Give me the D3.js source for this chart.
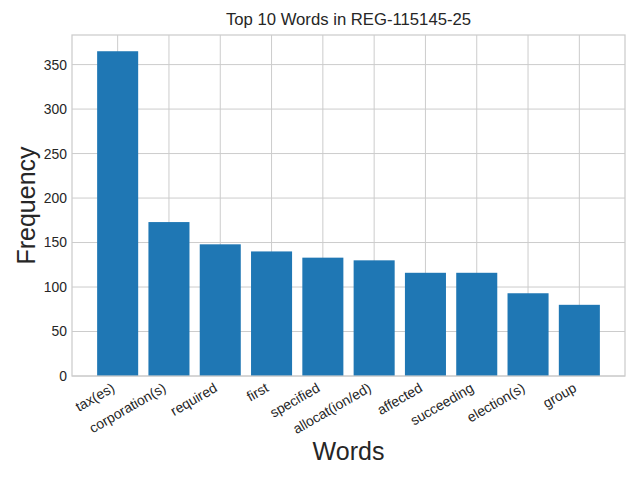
<!DOCTYPE html>
<html>
<head>
<meta charset="utf-8">
<script src="https://cdn.jsdelivr.net/npm/d3@7"></script>
<style>
  body { margin: 0; background: #fff; }
  svg { display: block; font-family: Arial, "Liberation Sans", sans-serif; }
</style>
</head>
<body>
<svg id="chart" width="640" height="480"></svg>
<script>
// word counts
const words = ["tax(es)", "corporation(s)", "required", "first", "specified",
               "allocat(ion/ed)", "affected", "succeeding", "election(s)", "group"];
const counts = [365, 173, 148, 140, 133, 130, 116, 116, 93, 80];
const yTicks = [0, 50, 100, 150, 200, 250, 300, 350];

const margin = { top: 35, right: 15, bottom: 104, left: 72 };
const width = 640 - margin.left - margin.right;
const height = 480 - margin.top - margin.bottom;

const svg = d3.select("#chart");
const g = svg.append("g")
    .attr("transform", `translate(${margin.left}, ${margin.top})`);

// matplotlib-like limits: bars of width 0.8 with 5% margins
const barW = 0.8;
const lo = -barW / 2, hi = words.length - 1 + barW / 2;
const pad = (hi - lo) * 0.05;
const x = d3.scaleLinear().domain([lo - pad, hi + pad]).range([0, width]);
const y = d3.scaleLinear().domain([0, d3.max(counts) * 1.05]).range([height, 0]);

const grid = "#cccccc";

// grid lines
g.append("g").selectAll("line.h")
    .data(yTicks).enter().append("line")
    .attr("x1", 0).attr("x2", width)
    .attr("y1", d => y(d)).attr("y2", d => y(d))
    .attr("stroke", grid).attr("stroke-width", 1);

g.append("g").selectAll("line.v")
    .data(words).enter().append("line")
    .attr("x1", (d, i) => x(i)).attr("x2", (d, i) => x(i))
    .attr("y1", 0).attr("y2", height)
    .attr("stroke", grid).attr("stroke-width", 1);

// bars
g.selectAll("rect.bar")
    .data(counts).enter().append("rect")
    .attr("class", "bar")
    .attr("x", (d, i) => x(i - barW / 2))
    .attr("width", x(barW) - x(0))
    .attr("y", d => y(d))
    .attr("height", d => height - y(d))
    .attr("fill", "#1f77b4");

// frame
g.append("rect")
    .attr("width", width).attr("height", height)
    .attr("fill", "none").attr("stroke", grid).attr("stroke-width", 1.25);

// y axis labels
const yAxis = g.append("g")
    .call(d3.axisLeft(y).tickValues(yTicks).tickSize(0).tickPadding(5));
yAxis.select(".domain").remove();
yAxis.selectAll("text")
    .attr("font-size", "13.9px")
    .attr("font-family", "Arial, 'Liberation Sans', sans-serif")
    .attr("fill", "#262626");

// x tick labels, rotated 30 degrees and right-aligned
g.append("g").selectAll("text")
    .data(words).enter().append("text")
    .attr("transform", (d, i) => `translate(${x(i) - 7}, ${height + 6}) rotate(-30)`)
    .attr("text-anchor", "end")
    .attr("dy", "0.72em")
    .attr("font-size", "13.9px")
    .attr("fill", "#262626")
    .text(d => d);

// title and axis labels
svg.append("text")
    .attr("x", margin.left + width / 2).attr("y", 25)
    .attr("text-anchor", "middle")
    .attr("font-size", "16.7px")
    .attr("fill", "#262626")
    .text("Top 10 Words in REG-115145-25");

svg.append("text")
    .attr("x", margin.left + width / 2).attr("y", 460)
    .attr("text-anchor", "middle")
    .attr("font-size", "25px")
    .attr("fill", "#262626")
    .text("Words");

svg.append("text")
    .attr("transform", `translate(35, ${margin.top + height / 2}) rotate(-90)`)
    .attr("text-anchor", "middle")
    .attr("font-size", "25px")
    .attr("fill", "#262626")
    .text("Frequency");
</script>
</body>
</html>
